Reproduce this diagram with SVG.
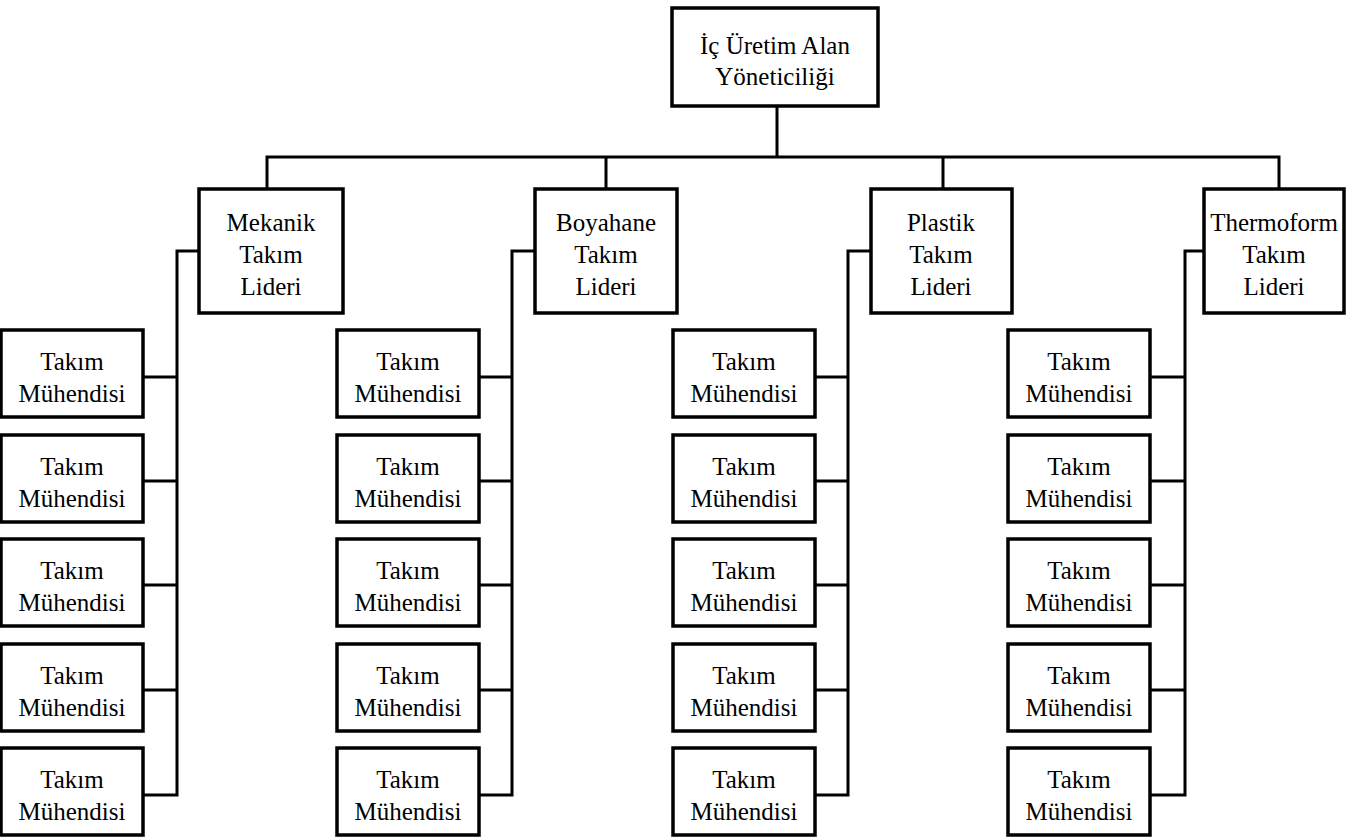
<svg xmlns="http://www.w3.org/2000/svg" width="1349" height="838" viewBox="0 0 1349 838">
  <style>
    .box { fill: #ffffff; stroke: #000000; stroke-width: 3.5; }
    .lbl { font-family: 'Liberation Serif', 'Times New Roman', Times, 'DejaVu Serif', serif; font-size: 25px; fill: #000000; text-anchor: middle; }
    .wire { fill: none; stroke: #000000; stroke-width: 3; stroke-linejoin: miter; stroke-linecap: square; }
  </style>
  <defs>
    <g id="eng">
      <rect class="box" x="0" y="0" width="142" height="87"/>
      <text class="lbl" font-family="Liberation Serif, serif" x="71" y="40">Takım</text>
      <text class="lbl" font-family="Liberation Serif, serif" x="71" y="72">Mühendisi</text>
    </g>
  </defs>
  <rect width="1349" height="838" fill="#ffffff"/>

  <!-- connectors -->
  <g id="connectors">
    <path class="wire" d="M777 106 V157 M267 157 H1279 M267 157 V189 M606 157 V189 M943 157 V189 M1279 157 V189"/>
    <!-- Mekanik branch -->
    <path class="wire" d="M199 251 H177 V795 M143 377 H177 M143 481 H177 M143 585 H177 M143 690 H177 M143 795 H177"/>
    <!-- Boyahane branch -->
    <path class="wire" d="M535 251 H512 V795 M479 377 H512 M479 481 H512 M479 585 H512 M479 690 H512 M479 795 H512"/>
    <!-- Plastik branch -->
    <path class="wire" d="M871 251 H848 V795 M815 377 H848 M815 481 H848 M815 585 H848 M815 690 H848 M815 795 H848"/>
    <!-- Thermoform branch -->
    <path class="wire" d="M1204 251 H1185 V795 M1151 377 H1185 M1151 481 H1185 M1151 585 H1185 M1151 690 H1185 M1151 795 H1185"/>
  </g>

  <!-- top -->
  <g id="ic-uretim">
    <rect class="box" x="672" y="8" width="206" height="98"/>
    <text class="lbl" font-family="Liberation Serif, serif" x="775" y="54">İç Üretim Alan</text>
    <text class="lbl" font-family="Liberation Serif, serif" x="775" y="85">Yöneticiliği</text>
  </g>

  <!-- team leaders -->
  <g id="mekanik" font-family="Liberation Serif, serif">
    <rect class="box" x="199" y="189" width="144" height="124"/>
    <text class="lbl" x="271" y="231">Mekanik</text>
    <text class="lbl" x="271" y="263">Takım</text>
    <text class="lbl" x="271" y="295">Lideri</text>
  </g>
  <g id="boyahane">
    <rect class="box" x="535" y="189" width="142" height="124"/>
    <text class="lbl" x="606" y="231">Boyahane</text>
    <text class="lbl" x="606" y="263">Takım</text>
    <text class="lbl" x="606" y="295">Lideri</text>
  </g>
  <g id="plastik">
    <rect class="box" x="871" y="189" width="141" height="124"/>
    <text class="lbl" x="941" y="231">Plastik</text>
    <text class="lbl" x="941" y="263">Takım</text>
    <text class="lbl" x="941" y="295">Lideri</text>
  </g>
  <g id="thermoform">
    <rect class="box" x="1204" y="189" width="140" height="124"/>
    <text class="lbl" x="1274" y="231">Thermoform</text>
    <text class="lbl" x="1274" y="263">Takım</text>
    <text class="lbl" x="1274" y="295">Lideri</text>
  </g>

  <!-- engineers: Mekanik -->
  <g id="mek-1"><use href="#eng" x="1" y="330"/></g>
  <g id="mek-2"><use href="#eng" x="1" y="435"/></g>
  <g id="mek-3"><use href="#eng" x="1" y="539"/></g>
  <g id="mek-4"><use href="#eng" x="1" y="644"/></g>
  <g id="mek-5"><use href="#eng" x="1" y="748"/></g>

  <!-- engineers: Boyahane -->
  <g id="boy-1"><use href="#eng" x="337" y="330"/></g>
  <g id="boy-2"><use href="#eng" x="337" y="435"/></g>
  <g id="boy-3"><use href="#eng" x="337" y="539"/></g>
  <g id="boy-4"><use href="#eng" x="337" y="644"/></g>
  <g id="boy-5"><use href="#eng" x="337" y="748"/></g>

  <!-- engineers: Plastik -->
  <g id="pla-1"><use href="#eng" x="673" y="330"/></g>
  <g id="pla-2"><use href="#eng" x="673" y="435"/></g>
  <g id="pla-3"><use href="#eng" x="673" y="539"/></g>
  <g id="pla-4"><use href="#eng" x="673" y="644"/></g>
  <g id="pla-5"><use href="#eng" x="673" y="748"/></g>

  <!-- engineers: Thermoform -->
  <g id="the-1"><use href="#eng" x="1008" y="330"/></g>
  <g id="the-2"><use href="#eng" x="1008" y="435"/></g>
  <g id="the-3"><use href="#eng" x="1008" y="539"/></g>
  <g id="the-4"><use href="#eng" x="1008" y="644"/></g>
  <g id="the-5"><use href="#eng" x="1008" y="748"/></g>
</svg>
